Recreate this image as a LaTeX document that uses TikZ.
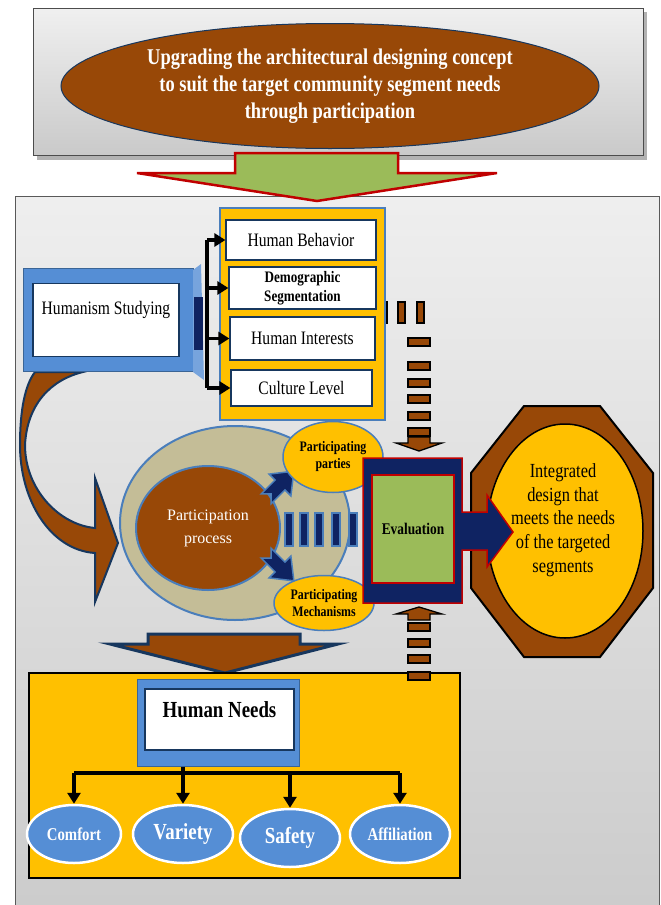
\documentclass[tikz,border=0pt]{standalone}
\usepackage{fontspec}
\setmainfont{Liberation Serif}
\newfontfamily\cond[FakeStretch=0.82]{Liberation Serif}
\usetikzlibrary{shapes.geometric,arrows.meta}
\definecolor{brn}{HTML}{984807}
\definecolor{navy}{HTML}{0F2362}
\definecolor{dnavy}{HTML}{17375E}
\definecolor{ylw}{HTML}{FFC000}
\definecolor{blu}{HTML}{558ED5}
\definecolor{steel}{HTML}{4A7EBB}
\definecolor{grn}{HTML}{9BBB59}
\definecolor{rd}{HTML}{C00000}
\definecolor{beige}{HTML}{C4BD97}
\begin{document}
\begin{tikzpicture}[x=1pt,y=-1pt,
  wbox/.style={draw=dnavy,line width=1.2pt,fill=white,minimum width=#1,inner sep=0pt},
  boxtxt/.style={font=\cond\fontsize{19}{20}\selectfont,text=black},
  yell/.style={ellipse,draw=steel,line width=1.5pt,fill=ylw,inner sep=0pt},
  needell/.style={ellipse,draw=white,line width=2.5pt,fill=blu,inner sep=0pt,minimum width=100pt,minimum height=58pt,text=white,font=\cond\bfseries\fontsize{18}{20}\selectfont},
  dashbar/.style={draw=black,line width=1.3pt,fill=brn},
  blkarrow/.style={line width=3.5pt,-{Triangle[length=11pt,width=13pt]}},
  chev/.style={draw=steel,line width=1.5pt,fill=navy,line join=miter}]
\useasboundingbox (0,0) rectangle (661,905);
\fill[white] (0,0) rectangle (661,905);
% main panel
\shade[top color=gray!13,bottom color=gray!40] (15,196) rectangle (659,905);
\draw[gray!70!black,line width=1pt] (15,905) -- (15,196) -- (659,196) -- (659,905);
% top box
\fill[gray!60] (37,12) rectangle (647,160);
\node[name=topbox,draw=gray!60!black,line width=1pt,top color=gray!12,bottom color=gray!42,minimum width=610pt,minimum height=147pt,inner sep=0pt] at (338,82) {};
\node[name=topell,ellipse,draw=dnavy,line width=1pt,fill=brn,minimum width=538pt,minimum height=125pt,inner sep=0pt,text=white,align=center,font=\cond\bfseries\fontsize{22.5}{27}\selectfont] at (330,86) {Upgrading the architectural designing concept\\to suit the target community segment needs\\through participation};
% green arrow
\draw[draw=rd,line width=2.5pt,fill=grn,line join=miter] (235,153) -- (398,153) -- (398,173) -- (497,173) -- (317,201) -- (137,173) -- (235,173) -- cycle;

% curved brown arrow
\draw[draw=dnavy,line width=2pt,fill=brn,line join=miter] (83,372) .. controls (50,380) and (27,405) .. (25,445) .. controls (25,490) and (60,525) .. (95,528) -- (95,478) -- (118,543) -- (95,602) -- (95,553) .. controls (50,550) and (20,500) .. (20,445) .. controls (20,410) and (25,385) .. (35,372) -- cycle;

% Humanism box
\node[name=hum,draw=steel!80!black,line width=1pt,fill=blu,minimum width=170pt,minimum height=103pt,inner sep=0pt] at (108,320) {};
\node[name=humin,wbox=146pt,minimum height=73pt] at (106,320) {};
\node[name=humtxt,boxtxt] at (106,310) {Humanism Studying};
\fill[blu!80!white] (193,270) -- (201,264) -- (204,380) -- (193,372) -- cycle;
\fill[navy] (194,297) rectangle (203,350);

% dashed arrow top (vertical bars behind yellow box)
\draw[dashbar] (380,302) rectangle (387,323);
\draw[dashbar] (398,302) rectangle (405,323);
\draw[dashbar] (417,302) rectangle (424,323);

% yellow box with four items
\node[name=ybox,draw=steel,line width=1.5pt,fill=ylw,minimum width=165pt,minimum height=212pt,inner sep=0pt] at (302.5,314) {};
\node[name=hb,wbox=150pt,minimum height=40pt,boxtxt] at (301,240) {Human Behavior};
\node[name=ds,wbox=147pt,minimum height=42pt,boxtxt,align=center,font=\cond\bfseries\fontsize{16}{19}\selectfont] at (302.5,288) {Demographic\\Segmentation};
\node[name=hi,wbox=145pt,minimum height=43pt,boxtxt] at (302.5,338.5) {Human Interests};
\node[name=cl,wbox=141pt,minimum height=36pt,boxtxt] at (301.5,388) {Culture Level};
\coordinate (sp) at (207,0);
\draw[line width=3.5pt] (hb.west -| sp) -- (cl.west -| sp);
\foreach \b in {hb,ds,hi,cl} \draw[blkarrow] (\b.west -| sp) -- (\b.west);

\foreach \y in {338,362,379,395,412,428} \draw[dashbar] (408,\y) rectangle (430,\y+8);
\draw[dashbar,line join=miter] (408,437) -- (430,437) -- (430,443) -- (442,443) -- (419,451) -- (396,443) -- (408,443) -- cycle;
\draw[dashbar,line join=miter] (419,607) -- (442,614) -- (430,614) -- (430,620) -- (408,620) -- (408,614) -- (396,614) -- cycle;
\foreach \y in {623,639,655,672} \draw[dashbar] (408,\y) rectangle (430,\y+8);

% participation
\node[name=pout,ellipse,draw=steel,line width=2pt,fill=beige,minimum width=230pt,minimum height=194pt,inner sep=0pt] at (235,523) {};
\node[name=pin,ellipse,draw=steel,line width=2pt,fill=brn,minimum width=144pt,minimum height=124pt,inner sep=0pt,text=white,align=center,font=\fontsize{16}{23}\selectfont] at (208,528) {Participation\\process};
\foreach \x in {285,300,315,332,349} \draw[draw=steel,line width=1.5pt,fill=navy] (\x,513) rectangle (\x+8,546);
\draw[chev,shift={(280,485)},rotate=45,scale=1.4] (-14,-5) -- (0,-5) -- (0,-11) -- (14,0) -- (0,11) -- (0,5) -- (-14,5) -- (-9,0) -- cycle;
\draw[chev,shift={(280,567)},rotate=-45,scale=1.4] (-14,-5) -- (0,-5) -- (0,-11) -- (14,0) -- (0,11) -- (0,5) -- (-14,5) -- (-9,0) -- cycle;
\node[name=parties,yell,minimum width=100pt,minimum height=71pt,align=center,font=\cond\bfseries\fontsize{14.5}{17}\selectfont] at (333,457) {Participating\\parties};
\node[name=mech,yell,minimum width=100pt,minimum height=55pt,align=center,font=\cond\bfseries\fontsize{14.5}{17}\selectfont] at (324,603) {Participating\\Mechanisms};

% octagon result
\draw[fill=brn,draw=black,line width=2pt] (524,406) -- (600,406) -- (653,473) -- (653,588) -- (600,657) -- (524,657) -- (471,588) -- (471,473) -- cycle;
\node[name=result,ellipse,draw=black,line width=1.5pt,fill=ylw,minimum width=156pt,minimum height=214pt,inner sep=0pt] at (565,531) {};
\node[name=restxt,align=center,font=\cond\fontsize{20}{23.75}\selectfont] at (563,520) {Integrated\\design that\\meets the needs\\of the targeted\\segments};

% evaluation
\draw[draw=rd,line width=1.5pt,fill=navy,line join=miter] (363,458) -- (462,458) -- (462,512) -- (487,512) -- (487,495) -- (513,532) -- (487,567) -- (487,550) -- (462,550) -- (462,603) -- (363,603) -- cycle;
\node[name=eval,draw=rd,line width=2pt,fill=grn,minimum width=82pt,minimum height=108pt,inner sep=0pt,font=\cond\bfseries\fontsize{16.3}{18}\selectfont] at (413,529) {Evaluation};

% brown down arrow
\draw[draw=dnavy,line width=3pt,fill=brn,line join=miter] (148,634) -- (300,634) -- (300,644) -- (338,644) -- (225,673) -- (110,644) -- (148,644) -- cycle;

% bottom needs
\node[name=nbox,draw=black,line width=1.5pt,fill=ylw,minimum width=431pt,minimum height=205pt,inner sep=0pt] at (244.5,775.5) {};
\draw[dashbar] (408,672) rectangle (430,680);
\node[name=hn,draw=steel!80!black,line width=1pt,fill=blu,minimum width=162pt,minimum height=87pt,inner sep=0pt] at (218,722.5) {};
\node[name=hnin,wbox=149pt,minimum height=61pt] at (219.5,719.5) {};
\node[name=hntxt,font=\cond\bfseries\fontsize{23}{26}\selectfont] at (219.5,710) {Human Needs};
\node[name=c1,needell,minimum width=94pt] at (74,834) {Comfort};
\node[name=c2,needell,font=\cond\bfseries\fontsize{23}{24}\selectfont] at (183,834) {\raisebox{3pt}{Variety}};
\node[name=c3,needell,font=\cond\bfseries\fontsize{23}{24}\selectfont] at (290,838) {Safety};
\node[name=c4,needell] at (400,834) {Affiliation};
\coordinate (br) at (0,773);
\draw[line width=3.5pt] (c1.north |- br) -- (c4.north |- br);
\draw[line width=3.5pt] (c2.north |- hn.south) -- (c2.north |- br);
\foreach \c in {c1,c2,c3,c4} \draw[blkarrow] (\c.north |- br) -- (\c.north);
\end{tikzpicture}
\end{document}
